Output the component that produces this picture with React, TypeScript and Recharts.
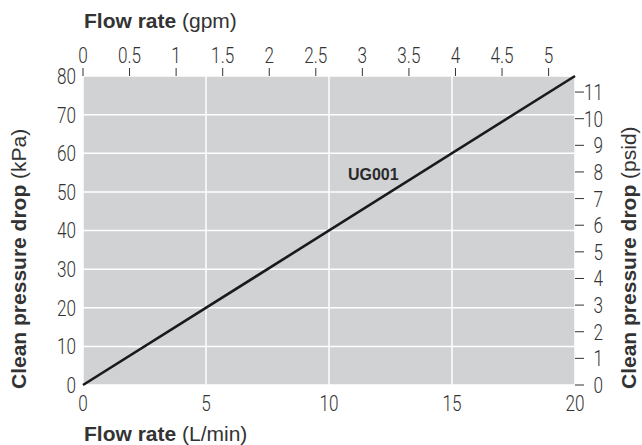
import { LineChart, Line, XAxis, YAxis, CartesianGrid, ReferenceDot } from 'recharts';

// readings
const flowLpm = [0, 20];
const dropKpa = [0, 80];

const lpmTicks = [0, 5, 10, 15, 20];
const kpaTicks = [0, 10, 20, 30, 40, 50, 60, 70, 80];
const gpmTicks = [0, 0.5, 1, 1.5, 2, 2.5, 3, 3.5, 4, 4.5, 5];
const psidTicks = [0, 1, 2, 3, 4, 5, 6, 7, 8, 9, 10, 11];

const seriesName = 'UG001';
const seriesLabelAt = { lpm: 11.8, kpa: 54.6 };

const LPM_PER_GPM = 3.78541;
const KPA_PER_PSI = 6.89476;

const data = flowLpm.map((lpm, i) => ({
    lpm,
    kpa: dropKpa[i],
    gpm: lpm / LPM_PER_GPM,
    psid: dropKpa[i] / KPA_PER_PSI,
}));

const tickFont = 'Roboto, sans-serif';
const titleFont = "'Liberation Sans', Arial, sans-serif";
const textColor = '#333';

// thin, condensed tick numbers
const NumText = ({ x, y, anchor, dy, value }: any) => (
    <g transform={`translate(${x} ${y}) scale(0.78 1)`}>
        <text x={0} y={0} dy={dy} textAnchor={anchor} fill={textColor} fontSize={22} fontWeight={300} fontFamily={tickFont}>
            {value}
        </text>
    </g>
);

const BottomTick = ({ x, y, payload }: any) => <NumText x={x} y={y} dy="0.71em" anchor="middle" value={payload.value} />;
const LeftTick = ({ x, y, payload }: any) => <NumText x={x} y={y} dy="0.36em" anchor="end" value={payload.value} />;
const TopTick = ({ x, y, payload }: any) => <NumText x={x} y={y} dy={0} anchor="middle" value={payload.value} />;
const RightTick = ({ x, y, payload }: any) => <NumText x={x + 15} y={y} dy="0.36em" anchor="end" value={payload.value} />;

export default function App() {
    return (
        <div style={{ position: 'absolute', left: 0, top: 0, width: 642, height: 445 }}>
            <LineChart width={642} height={445} data={data} margin={{ top: 0, right: 0, bottom: 0, left: 0 }}>
                <CartesianGrid xAxisId="lpm" yAxisId="kpa" fill="#d1d2d4" stroke="#fff" strokeWidth={1.5} />
                <XAxis
                    xAxisId="lpm"
                    dataKey="lpm"
                    type="number"
                    domain={[0, 20]}
                    ticks={lpmTicks}
                    height={60}
                    axisLine={false}
                    tickLine={false}
                    tickSize={0}
                    tickMargin={10}
                    tick={<BottomTick />}
                    interval={0}
                />
                <XAxis
                    xAxisId="gpm"
                    dataKey="gpm"
                    type="number"
                    orientation="top"
                    domain={[0, 20 / LPM_PER_GPM]}
                    allowDataOverflow
                    ticks={gpmTicks}
                    height={76}
                    axisLine={false}
                    tickLine={{ stroke: textColor, strokeWidth: 1 }}
                    tickSize={8}
                    tickMargin={5}
                    tick={<TopTick />}
                    interval={0}
                />
                <YAxis
                    yAxisId="kpa"
                    type="number"
                    domain={[0, 80]}
                    ticks={kpaTicks}
                    width={83}
                    axisLine={false}
                    tickLine={false}
                    tickSize={0}
                    tickMargin={7}
                    tick={<LeftTick />}
                    interval={0}
                />
                <YAxis
                    yAxisId="psid"
                    type="number"
                    orientation="right"
                    domain={[0, 80 / KPA_PER_PSI]}
                    allowDataOverflow
                    ticks={psidTicks}
                    width={67}
                    axisLine={false}
                    tickLine={{ stroke: textColor, strokeWidth: 1 }}
                    tickSize={9}
                    tickMargin={4}
                    tick={<RightTick />}
                    interval={0}
                />
                <Line
                    xAxisId="gpm"
                    yAxisId="psid"
                    dataKey="psid"
                    stroke="none"
                    dot={false}
                    activeDot={false}
                    isAnimationActive={false}
                />
                <Line
                    xAxisId="lpm"
                    yAxisId="kpa"
                    dataKey="kpa"
                    stroke="#1a1a1a"
                    strokeWidth={2.6}
                    dot={false}
                    activeDot={false}
                    isAnimationActive={false}
                />
                <ReferenceDot
                    xAxisId="lpm"
                    yAxisId="kpa"
                    x={seriesLabelAt.lpm}
                    y={seriesLabelAt.kpa}
                    r={1}
                    fill="none"
                    stroke="none"
                    label={{ value: seriesName, position: 'center', fill: '#2a2a2a', fontSize: 16, fontWeight: 700, fontFamily: titleFont }}
                />
            </LineChart>
            <svg width={642} height={445} style={{ position: 'absolute', left: 0, top: 0, pointerEvents: 'none' }}>
                <g fontFamily={titleFont} fontSize={21} fill={textColor}>
                    <text x={84} y={28}>
                        <tspan fontWeight={700}>Flow rate</tspan>
                        <tspan> (gpm)</tspan>
                    </text>
                    <text x={84} y={441}>
                        <tspan fontWeight={700}>Flow rate</tspan>
                        <tspan> (L/min)</tspan>
                    </text>
                    <text x={26} y={389} textAnchor="start" transform="rotate(-90 26 389)">
                        <tspan fontWeight={700}>Clean pressure drop</tspan>
                        <tspan> (kPa)</tspan>
                    </text>
                    <text x={636} y={389} textAnchor="start" transform="rotate(-90 636 389)">
                        <tspan fontWeight={700}>Clean pressure drop</tspan>
                        <tspan> (psid)</tspan>
                    </text>
                </g>
            </svg>
        </div>
    );
}
